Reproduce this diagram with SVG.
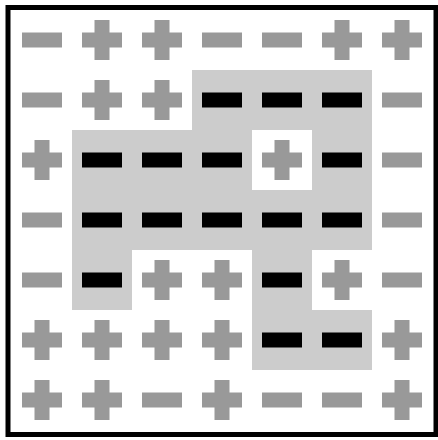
<svg xmlns="http://www.w3.org/2000/svg" xmlns:xlink="http://www.w3.org/1999/xlink" width="438" height="440" viewBox="0 0 438 440">
<style>
.g{fill:#999999}
.k{fill:#000000}
</style>
<defs>
<path id="p" d="M-7.5,-20h15v12.5h12.5v15h-12.5v12.5h-15v-12.5h-12.5v-15h12.5z"/>
<rect id="m" x="-20" y="-7.5" width="40" height="15"/>
</defs>
<rect x="0" y="0" width="438" height="440" fill="#ffffff"/>
<path id="region" d="M192,70H372V250H312V310H372V370H252V250H132V310H72V130H192Z M252,130V190H312V130Z" fill="#cccccc" fill-rule="evenodd"/>
<g id="row0">
<use href="#m" class="g" x="42" y="40"/>
<use href="#p" class="g" x="102" y="40"/>
<use href="#p" class="g" x="162" y="40"/>
<use href="#m" class="g" x="222" y="40"/>
<use href="#m" class="g" x="282" y="40"/>
<use href="#p" class="g" x="342" y="40"/>
<use href="#p" class="g" x="402" y="40"/>
</g>
<g id="row1">
<use href="#m" class="g" x="42" y="100"/>
<use href="#p" class="g" x="102" y="100"/>
<use href="#p" class="g" x="162" y="100"/>
<use href="#m" class="k" x="222" y="100"/>
<use href="#m" class="k" x="282" y="100"/>
<use href="#m" class="k" x="342" y="100"/>
<use href="#m" class="g" x="402" y="100"/>
</g>
<g id="row2">
<use href="#p" class="g" x="42" y="160"/>
<use href="#m" class="k" x="102" y="160"/>
<use href="#m" class="k" x="162" y="160"/>
<use href="#m" class="k" x="222" y="160"/>
<use href="#p" class="g" x="282" y="160"/>
<use href="#m" class="k" x="342" y="160"/>
<use href="#m" class="g" x="402" y="160"/>
</g>
<g id="row3">
<use href="#m" class="g" x="42" y="220"/>
<use href="#m" class="k" x="102" y="220"/>
<use href="#m" class="k" x="162" y="220"/>
<use href="#m" class="k" x="222" y="220"/>
<use href="#m" class="k" x="282" y="220"/>
<use href="#m" class="k" x="342" y="220"/>
<use href="#m" class="g" x="402" y="220"/>
</g>
<g id="row4">
<use href="#m" class="g" x="42" y="280"/>
<use href="#m" class="k" x="102" y="280"/>
<use href="#p" class="g" x="162" y="280"/>
<use href="#p" class="g" x="222" y="280"/>
<use href="#m" class="k" x="282" y="280"/>
<use href="#p" class="g" x="342" y="280"/>
<use href="#m" class="g" x="402" y="280"/>
</g>
<g id="row5">
<use href="#p" class="g" x="42" y="340"/>
<use href="#p" class="g" x="102" y="340"/>
<use href="#p" class="g" x="162" y="340"/>
<use href="#p" class="g" x="222" y="340"/>
<use href="#m" class="k" x="282" y="340"/>
<use href="#m" class="k" x="342" y="340"/>
<use href="#p" class="g" x="402" y="340"/>
</g>
<g id="row6">
<use href="#p" class="g" x="42" y="400"/>
<use href="#p" class="g" x="102" y="400"/>
<use href="#m" class="g" x="162" y="400"/>
<use href="#p" class="g" x="222" y="400"/>
<use href="#m" class="g" x="282" y="400"/>
<use href="#m" class="g" x="342" y="400"/>
<use href="#p" class="g" x="402" y="400"/>
</g>
<rect id="frame" x="8" y="7.5" width="428" height="427" fill="none" stroke="#000000" stroke-width="5"/>
</svg>
